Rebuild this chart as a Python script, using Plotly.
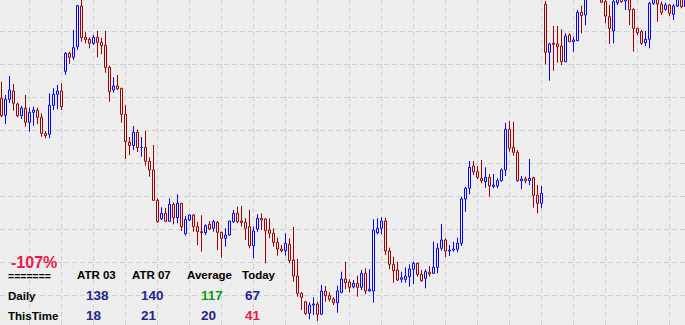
import plotly.graph_objects as go

# ---- data (price units: arbitrary) ----
opens = [226.7,209.7,225.7,234,221,209.3,216.7,202.7,212.7,214.7,207.7,191.7,190.7,219.7,230.7,234,
         253.7,271.7,267.7,278.3,319,287.7,285.7,281.7,287.7,282.7,279.7,257.7,235,239,236.7,210.7,
         182.7,179.5,192.7,177.5,177.7,163.7,155,124.7,106.3,111.7,103.7,120.7,107.3,121.7,91.3,105,
         110,98.3,93.3,92.3,100.7,96.7,102.7,92.7,86.7,90,103.3,111.7,104,102.7,98.3,79.3,
         96,106.7,106,95,91.7,82.7,76,74.3,80.7,65,49,31.7,23.3,11.7,20,21,
         10.7,34,29.3,26,22.3,32.7,46,43,38.3,41.7,37.7,51.7,34,34,92.3,96.7,
         104,74,60.7,55,45.7,45.7,48.3,55.7,61.7,50.7,46.7,52.7,51.7,57.7,76.7,85,
         74,75,75.7,81.7,126,136.7,159,153.3,146.7,143.3,147.7,138.3,139,144.3,155,195.7,
         177.7,172.7,144.3,146,144.3,147.3,129.7,121.7,320.7,272.7,281.7,281,279,263.3,290,283.3,
         284.3,312.7,310,328,340,333,330,323.3,308.3,294,322.3,330,324,328,315.7,296.7,
         293.3,282.3,285.7,321.7,328,320.7,315.7,320,310.7,319,327,318.3]
highs = [243.3,230,249,241,222.3,219,230,217.3,218.3,217.3,211.7,194,231.7,236.7,240,241.7,
         272.7,273.3,295,320,327,293.3,287.7,290,294,287.3,294,259.3,247.7,250,236.7,220,
         188,199,195.3,188,194,167.7,180,126.7,117.7,117,126.7,122.7,130.7,121.7,109,110.7,
         110.7,103.3,109.7,100.7,104,105,104,93.3,96.7,104,115,118.3,119,106.7,115,98.3,
         110.7,111.7,106.7,106.7,96.7,87.3,80,91.7,86.7,98,66,32.7,23.3,22.7,27.7,23.3,
         40,39,32.7,27.7,39.3,53.3,63.3,45.7,45,49.3,55,56.7,55.7,105.7,106.7,107.7,
         107.3,77.3,68.3,63.3,53.3,57.7,60.7,63.3,62.3,55,55.7,59,83.3,81.7,101,86.7,
         80,83.3,87.3,128.3,138.3,164,164,159,165,157.7,151,151,146.7,156.7,202.3,204,
         203.3,175,149,148.3,166,148.3,140,139,324,282.3,299,299,295.7,291.7,291.7,288.3,
         315,319.3,332,340,345,337,333,328,320,327,331,333,334,332,316.7,296.7,
         295,294,323.3,330,331,323.3,322.3,321,321,330,330,329]
lows = [207.7,201,222,214.3,207.7,206,198.3,193.3,199.3,201,188.3,186.7,186.7,215,215.7,215,
        250.3,261,265,275,283.3,281.7,276.7,280,267.7,271,252.3,223.3,232.3,235,202.3,166,
        170,175,173,168.3,159.3,148.3,124.7,102.3,105,103.3,103.7,100.7,101.7,94,89.3,104,
        93.3,80,73.3,90,95,93.3,75,67.3,78.3,89.3,102,101.7,98.3,85,76.7,66.7,
        93.3,95,61.7,86.7,78.3,69.3,72.7,69.3,61.7,43.3,28.3,15,10,5.7,10,4,
        10.7,23.3,23.3,20,12.3,31.7,36,32.7,36.7,28.3,35,30.7,33.3,22.3,90.7,90.7,
        70,55.7,42.3,44,42.3,42.3,38.3,41,48.3,43.3,36.7,48.3,51,51.7,74.3,67.7,
        69,73.3,72.7,79,113.3,130.7,150,146,141.7,137.3,128.3,136.7,136.7,143.3,149,173.3,
        169.3,143.3,135.7,141.7,140,117.3,111.7,116.7,260.7,244.3,254.3,262.3,260,263.3,283.3,273.3,
        284.3,291.7,300,326,329,326,322.3,301.7,281,281.7,320,322.3,315,300,273.3,290,
        280,279,276.7,320,303.3,310,314.3,309,305,318,316.7,317]
closes = [209.3,225.7,235,221.7,209.3,217,202.7,212.7,215,207.7,191.7,189.3,219.7,230.7,234,218.3,
          271.7,267.7,277.3,319.3,287.3,285.3,281.7,287.7,282.7,279.3,257.3,233.3,239,236.3,210.7,183.5,
          179.5,192.7,177.5,178,163.7,155,124.7,103.3,111.7,103.7,120.7,107.3,121.7,98.3,105.7,110,
          98.3,93.3,92.3,99.3,96,103.3,92.7,86.7,90,104,111.7,103.3,102.5,96.7,79.3,94,
          106.7,105,94.3,91.7,82.7,76,74.3,81.7,64.3,49,31.7,27.7,11.7,20,21,10.7,
          34,29.3,25.7,22.3,34,46,42.3,37.7,41.7,37.7,51.7,34,35.7,95,96.7,104,
          74,60.7,54.3,45,47.3,49,56,61.7,50.7,44.3,53.3,51,57.7,76.7,85,74,
          75,76,81.7,126,136.7,157.7,153.3,147.7,144.3,147.7,139,140,144.3,155,195.7,176.7,
          172.7,144.3,146,144.3,146.7,129.7,121.7,131.7,272.7,281,280.7,278.3,263.3,289,283.3,285,
          312.7,309.3,328,336,333,329,322.7,309,296.7,323.3,328,323.3,330,315,296.7,292.3,
          281.7,285.7,321.7,327,321,312.3,320,311.7,319,327,318.3,326]
bars = list(range(len(opens)))

col_headers = ["ATR 03", "ATR 07", "Average", "Today"]
row_labels = ["Daily", "ThisTime"]
daily_vals = ["138", "140", "117", "67"]
thistime_vals = ["18", "21", "20", "41"]
change_label = "-107%"
separator = "======="

BG = "#ededed"
UP = "#0000ff"
DOWN = "#990000"
NAVY = "#25258c"
GREEN = "#159a15"
CRIMSON = "#e8194b"
GRID = "#d0d0d0"

W, H = 685, 325
HALF = 0.25  # half body width in bar units

# build candle geometry (wicks + hollow bodies) from the OHLC arrays
wick = {True: ([], []), False: ([], [])}
body = {True: ([], []), False: ([], [])}
for i, o, h, l, c in zip(bars, opens, highs, lows, closes):
    up = c >= o
    wx, wy = wick[up]
    wx += [i, i, None]
    wy += [l, h, None]
    bx, by = body[up]
    lo, hi = min(o, c), max(o, c)
    bx += [i - HALF, i + HALF, i + HALF, i - HALF, i - HALF, None]
    by += [lo, lo, hi, hi, lo, None]

fig = go.Figure()
for up, col in ((True, UP), (False, DOWN)):
    fig.add_trace(go.Scatter(x=wick[up][0], y=wick[up][1], mode="lines",
                             line=dict(color=col, width=1), hoverinfo="skip",
                             showlegend=False, connectgaps=False))
for up, col in ((True, UP), (False, DOWN)):
    fig.add_trace(go.Scatter(x=body[up][0], y=body[up][1], mode="lines",
                             line=dict(color=col, width=1), fill="toself", fillcolor=BG,
                             hoverinfo="skip", showlegend=False, connectgaps=False))

fig.update_layout(
    width=W, height=H, margin=dict(l=0, r=0, t=0, b=0),
    paper_bgcolor=BG, plot_bgcolor=BG,
    xaxis=dict(range=[-0.375, 170.875], showticklabels=False, ticks="", zeroline=False,
               showgrid=True, gridcolor=GRID, gridwidth=1, griddash="5px,3px",
               tickmode="linear", tick0=7, dtick=8, showline=False, fixedrange=True),
    yaxis=dict(range=[0, 325], showticklabels=False, ticks="", zeroline=False,
               showgrid=True, gridcolor=GRID, gridwidth=1, griddash="5px,3px",
               tickmode="linear", tick0=293.4, dtick=32.93, showline=False, fixedrange=True),
    font=dict(family="Liberation Sans, Arial, sans-serif"),
)

def txt(s, px, py, size, color):
    fig.add_annotation(text=s, x=px / W, y=1 - py / H, xref="paper", yref="paper",
                       xanchor="left", yanchor="middle", showarrow=False,
                       font=dict(size=size, color=color, family="Liberation Sans, Arial, sans-serif",
                                 weight="bold"), borderpad=0)

txt(change_label, 10, 262.5, 16, CRIMSON)
txt(separator, 6.5, 276, 10.5, "#000000")
for label, px in zip(col_headers, [76, 131, 186, 241]):
    txt(label, px, 274.5, 11.5, "#000000")
txt(row_labels[0], 6.5, 296, 11.5, "#000000")
txt(row_labels[1], 6.5, 315.5, 11.5, "#000000")
val_x = [84.5, 139.5, 199.5, 244]
daily_cols = [NAVY, NAVY, GREEN, NAVY]
this_cols = [NAVY, NAVY, NAVY, CRIMSON]
for v, px, c in zip(daily_vals, val_x, daily_cols):
    txt(v, px, 295.5, 13.5, c)
for v, px, c in zip(thistime_vals, val_x, this_cols):
    txt(v, px, 315, 13.5, c)

fig.write_html("out.html")
